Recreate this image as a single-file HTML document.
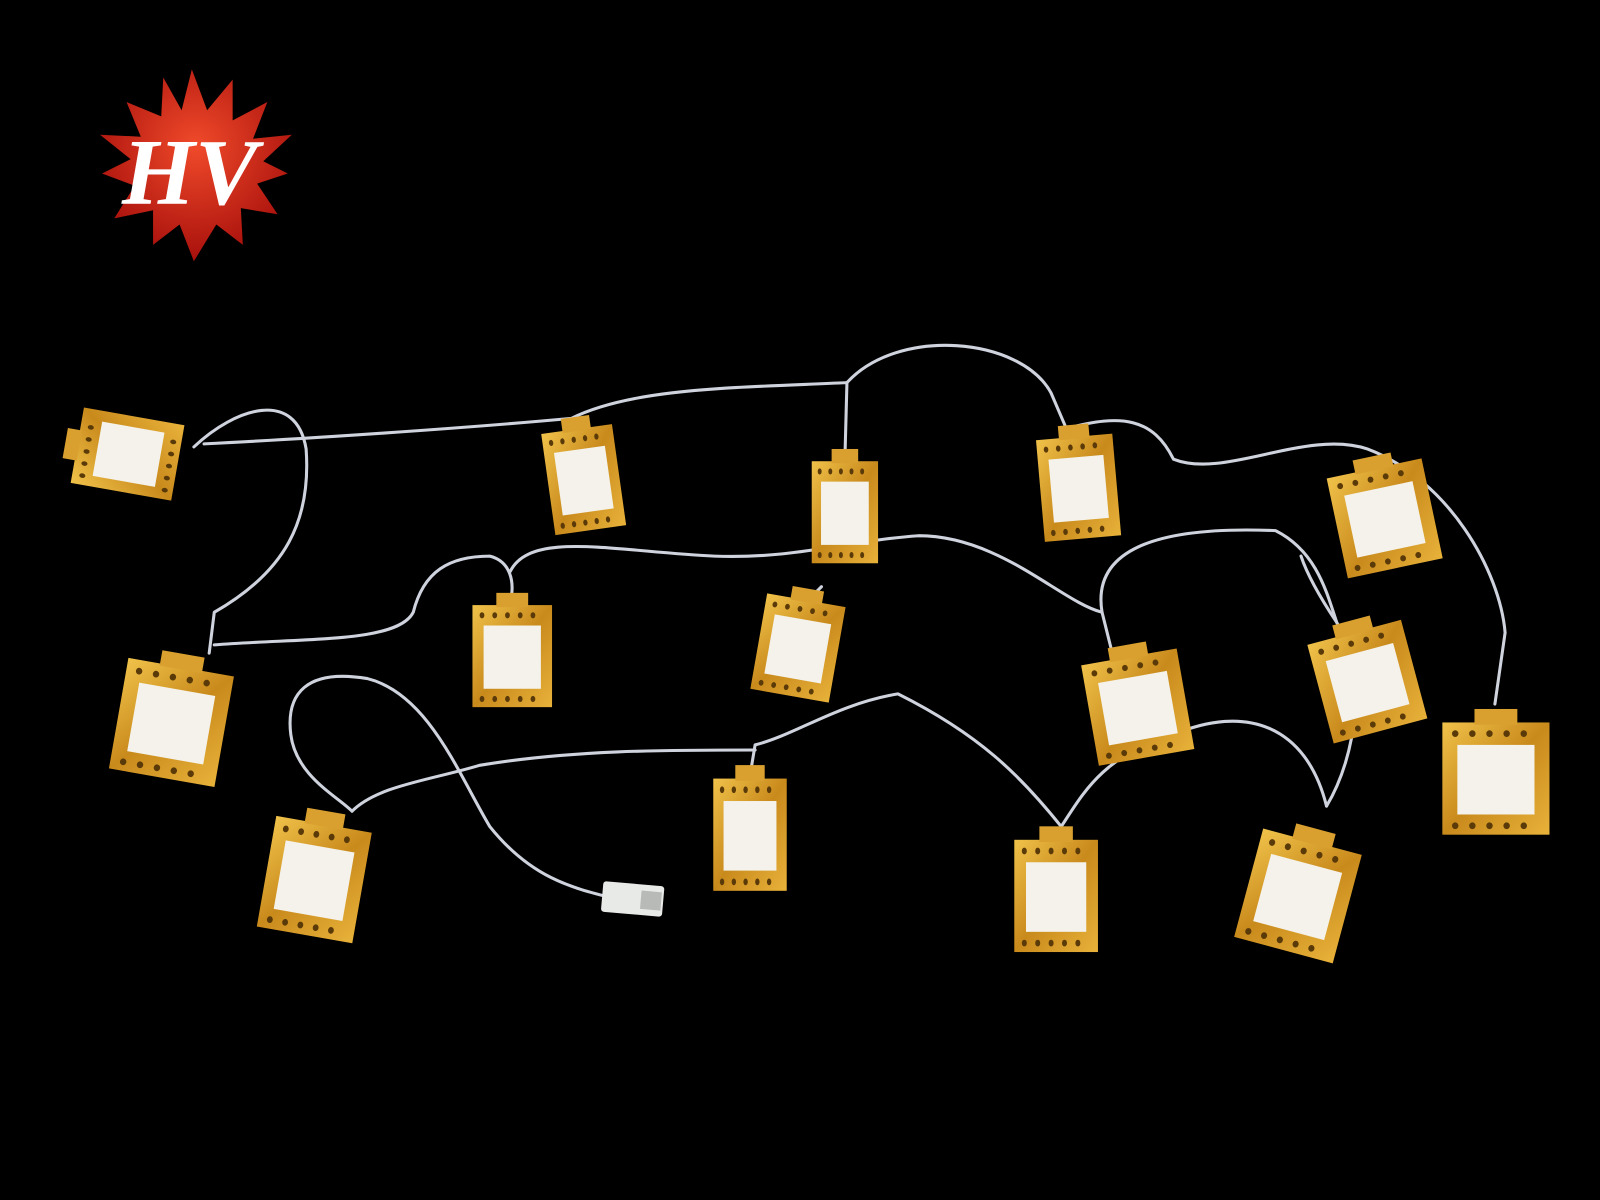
<!DOCTYPE html>
<html><head><meta charset="utf-8"><style>
html,body{margin:0;padding:0;background:#000;width:1600px;height:1200px;overflow:hidden}
svg{display:block}
</style></head><body>
<svg width="1600" height="1200" viewBox="0 0 1568 1176" preserveAspectRatio="none" xmlns="http://www.w3.org/2000/svg">
<defs>
<radialGradient id="rg" cx="50%" cy="40%" r="60%"><stop offset="0" stop-color="#f04a2a"/><stop offset="1" stop-color="#a8100c"/></radialGradient>
<linearGradient id="gold" x1="0" y1="0" x2="1" y2="1"><stop offset="0" stop-color="#f0c24a"/><stop offset=".5" stop-color="#c98a1c"/><stop offset="1" stop-color="#e8b23a"/></linearGradient>
<g id="lant">
<rect x="-50" y="-50" width="100" height="100" fill="url(#gold)"/>
<rect x="-36" y="-30" width="72" height="62" fill="#f4f2ea"/>
<rect x="-20" y="-62" width="40" height="14" fill="#d9a030"/>
<g fill="#5a3a08"><circle cx="-38" cy="-40" r="3"/><circle cx="-22" cy="-40" r="3"/><circle cx="-6" cy="-40" r="3"/><circle cx="10" cy="-40" r="3"/><circle cx="26" cy="-40" r="3"/><circle cx="-38" cy="42" r="3"/><circle cx="-22" cy="42" r="3"/><circle cx="-6" cy="42" r="3"/><circle cx="10" cy="42" r="3"/><circle cx="26" cy="42" r="3"/></g>
</g>
</defs>
<rect width="1568" height="1176" fill="#000"/>
<!-- logo -->
<polygon fill="url(#rg)" points="188,68 203,108 228,78 228,118 262,100 248,136 286,132 258,158 282,170 252,180 272,210 236,204 238,240 212,220 190,256 176,220 150,240 150,206 112,214 132,182 100,170 128,156 98,132 138,134 124,100 158,114 160,76 178,108"/>
<text x="186" y="200" font-family="Liberation Serif,serif" font-style="italic" font-weight="bold" font-size="92" fill="#fff" text-anchor="middle">HV</text>
<!-- wires -->
<g fill="none" stroke="#cfd3de" stroke-width="3" stroke-linecap="round" stroke-linejoin="round">
<path d="M190,438 C230,400 290,380 300,440 C305,510 280,560 210,600 L205,640"/>
<path d="M210,632 C300,625 390,630 405,600 C415,560 440,545 480,545 C500,550 505,570 500,590"/>
<path d="M500,560 C520,520 600,540 700,545 C780,548 830,530 900,525 C980,525 1040,590 1080,600 L1090,640"/>
<path d="M200,435 C300,430 450,420 560,410 C620,380 720,380 830,375 L828,450"/>
<path d="M830,375 C880,320 1000,330 1030,385 L1045,420 C1100,405 1130,410 1150,450 C1200,470 1280,420 1340,440 C1420,470 1470,560 1475,620 L1465,690"/>
<path d="M1080,600 C1070,540 1130,515 1250,520 C1290,540 1300,580 1310,610 C1340,660 1330,740 1300,790"/>
<path d="M1310,610 C1290,580 1280,560 1275,545"/>
<path d="M1300,790 C1280,710 1220,690 1150,720 C1080,740 1060,780 1040,810 C1000,760 960,720 880,680 C820,690 780,720 740,730 L735,760"/>
<path d="M740,735 C650,735 560,735 470,750 C420,765 370,770 345,795"/>
<path d="M600,880 C560,870 520,860 480,810 C450,760 420,680 360,665 C300,655 280,680 285,720 C290,760 330,780 345,795"/>
<path d="M805,575 L790,590"/>
</g>
<!-- usb -->
<rect x="590" y="866" width="60" height="30" rx="3" fill="#e8eae8" transform="rotate(5 620 881)"/>
<rect x="628" y="872" width="20" height="18" fill="#b8bab8" transform="rotate(5 620 881)"/>
<!-- lanterns -->
<use href="#lant" transform="translate(125,445) rotate(-80) scale(0.75,1.0)"/>
<use href="#lant" transform="translate(572,470) rotate(-8) scale(0.7,1.0)"/>
<use href="#lant" transform="translate(828,502) scale(0.65,1.0)"/>
<use href="#lant" transform="translate(1057,478) rotate(-5) scale(0.75,1.0)"/>
<use href="#lant" transform="translate(1357,508) rotate(-12) scale(0.95,1.0)"/>
<use href="#lant" transform="translate(502,643) scale(0.78,1.0)"/>
<use href="#lant" transform="translate(782,635) rotate(10) scale(0.78,0.95)"/>
<use href="#lant" transform="translate(1115,693) rotate(-10) scale(0.95,1.0)"/>
<use href="#lant" transform="translate(1340,668) rotate(-15) scale(0.95,1.0)"/>
<use href="#lant" transform="translate(1466,763) scale(1.05,1.1)"/>
<use href="#lant" transform="translate(168,708) rotate(10) scale(1.05,1.1)"/>
<use href="#lant" transform="translate(308,862) rotate(10) scale(0.95,1.1)"/>
<use href="#lant" transform="translate(735,818) scale(0.72,1.1)"/>
<use href="#lant" transform="translate(1035,878) scale(0.82,1.1)"/>
<use href="#lant" transform="translate(1272,878) rotate(15) scale(1.0,1.1)"/>
</svg>
</body></html>
